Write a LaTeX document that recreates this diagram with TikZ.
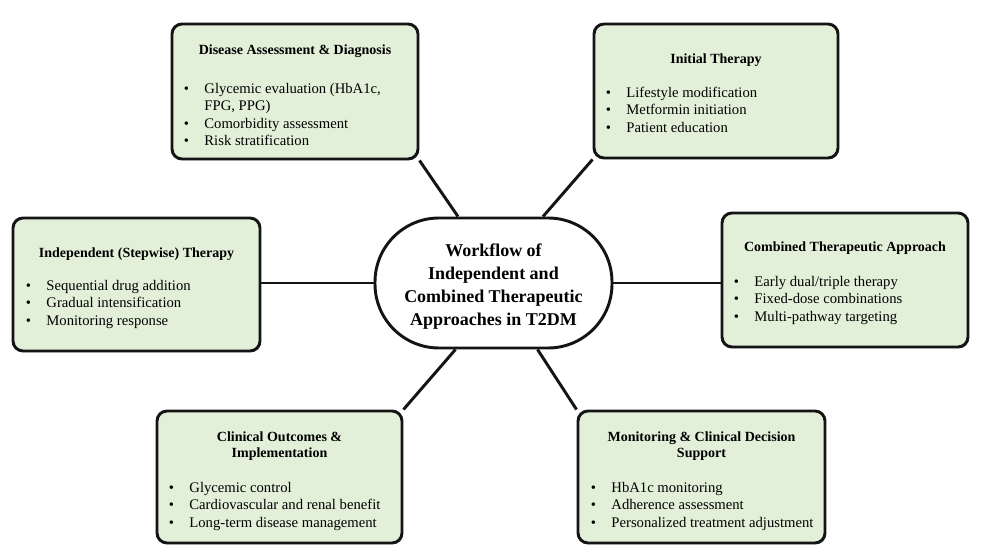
\documentclass[tikz,border=0pt]{standalone}
\usepackage{fontspec}
\setmainfont{Liberation Serif}
\usetikzlibrary{fit,calc,backgrounds,shadows}
\definecolor{boxgreen}{HTML}{E2EFD9}
\definecolor{edgecol}{HTML}{141414}
\newcommand\bitems[1]{\begin{tabular}[t]{@{}p{15.5pt}@{}l@{}}#1\end{tabular}}
\begin{document}
\begin{tikzpicture}[x=0.75pt,y=-0.75pt,
  box/.style={draw=edgecol, line width=2.2pt, fill=boxgreen, rounded corners=7.5pt, inner sep=0pt,
    drop shadow={shadow xshift=0.7pt, shadow yshift=-0.9pt, fill=black, opacity=0.45}},
  ttl/.style={font=\fontsize{10.5}{12}\selectfont\bfseries, align=center, inner sep=0pt},
  lst/.style={font=\fontsize{11}{13.1}\selectfont, inner sep=0pt, anchor=base west},
  hub/.style={draw=edgecol, line width=2.2pt, fill=white, rounded corners=48pt, inner sep=0pt,
    font=\fontsize{13.5}{17.25}\selectfont\bfseries, align=center},
  link/.style={draw=edgecol, line width=2.2pt}]
\useasboundingbox (0,0) rectangle (986,555);

% hub
\node[hub, fit={(375,218) (612,348)}] (ctr) {};
\node[font=\fontsize{13.5}{17.25}\selectfont\bfseries, align=center, inner sep=0pt] (ctrtxt) at ($(ctr.center)+(0,4)$)
  {Workflow of\\Independent and\\Combined Therapeutic\\Approaches in T2DM};

% boxes
\node[box, fit={(172,24) (418,159)}] (dis) {};
\node[ttl] (distt) at ($(dis.north)+(0,28.5)$) {Disease Assessment \& Diagnosis};
\node[lst] (disl) at ($(dis.north west)+(13,71)$) {\bitems{\textbullet & Glycemic evaluation (HbA1c,\\ & FPG, PPG)\\ \textbullet & Comorbidity assessment\\ \textbullet & Risk stratification}};

\node[box, fit={(594,24) (838,158)}] (ini) {};
\node[ttl] (initt) at ($(ini.north)+(0,37.5)$) {Initial Therapy};
\node[lst] (inil) at ($(ini.north west)+(13,75)$) {\bitems{\textbullet & Lifestyle modification\\ \textbullet & Metformin initiation\\ \textbullet & Patient education}};

\node[box, fit={(13,218) (260,351)}] (ind) {};
\node[ttl] (indtt) at ($(ind.north)+(0,37.5)$) {Independent (Stepwise) Therapy};
\node[lst] (indl) at ($(ind.north west)+(14,74)$) {\bitems{\textbullet & Sequential drug addition\\ \textbullet & Gradual intensification\\ \textbullet & Monitoring response}};

\node[box, fit={(722,213) (968,347)}] (com) {};
\node[ttl] (comtt) at ($(com.north)+(0,36.5)$) {Combined Therapeutic Approach};
\node[lst] (coml) at ($(com.north west)+(13,75)$) {\bitems{\textbullet & Early dual/triple therapy\\ \textbullet & Fixed-dose combinations\\ \textbullet & Multi-pathway targeting}};

\node[box, fit={(157,411) (402,543)}] (cli) {};
\node[ttl] (clitt) at ($(cli.north)+(0,37)$) {Clinical Outcomes \&\\Implementation};
\node[lst] (clil) at ($(cli.north west)+(13,83)$) {\bitems{\textbullet & Glycemic control\\ \textbullet & Cardiovascular and renal benefit\\ \textbullet & Long-term disease management}};

\node[box, fit={(578,411) (825,543)}] (mon) {};
\node[ttl] (montt) at ($(mon.north)+(0,37)$) {Monitoring \& Clinical Decision\\Support};
\node[lst] (monl) at ($(mon.north west)+(14,83)$) {\bitems{\textbullet & HbA1c monitoring\\ \textbullet & Adherence assessment\\ \textbullet & Personalized treatment adjustment}};

% connectors
\begin{scope}[on background layer]
\fill[white] (0,0) rectangle (986,555);
\draw[link] (dis.south east) -- ($(ctr.north)+(-35.5,0)$);
\draw[link] (ini.south west) -- ($(ctr.north)+(49.5,0)$);
\draw[link] (ctr.west) -- (ctr.west -| ind.east);
\draw[link] (ctr.east) -- (ctr.east -| com.west);
\draw[link] ($(ctr.south)+(-38,0)$) -- (cli.north east);
\draw[link] ($(ctr.south)+(44,0)$) -- (mon.north west);
\end{scope}
\end{tikzpicture}
\end{document}
